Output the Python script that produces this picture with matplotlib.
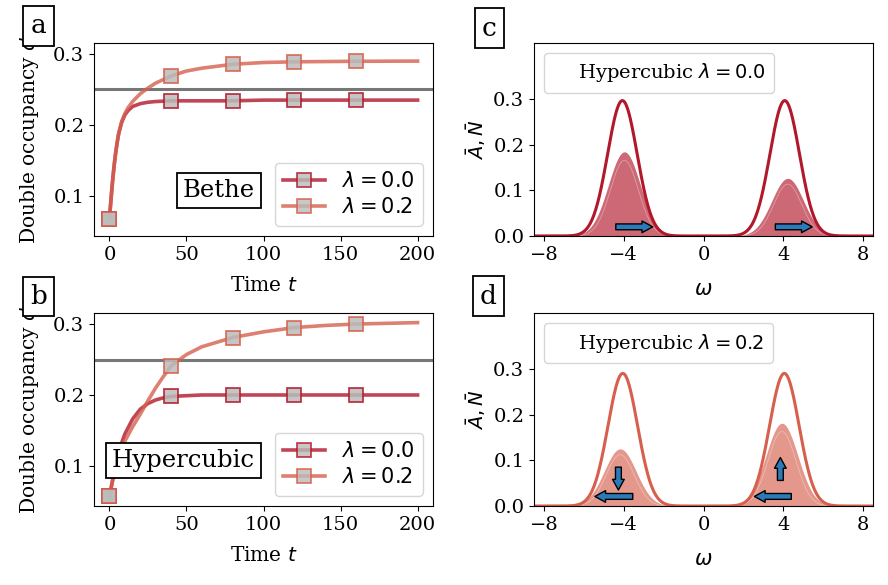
import numpy as np
import matplotlib
matplotlib.use("Agg")
import matplotlib.pyplot as plt

plt.rcParams['font.family'] = 'DejaVu Serif'
plt.rcParams['mathtext.fontset'] = 'dejavusans'
plt.rcParams['font.size'] = 14

dark = '#b2182b'
light = '#d6604d'
arrow_blue = '#2b7bba'

# double occupancy vs time
t_bethe = [0, 1, 2, 3, 4, 5, 6, 8, 10, 12, 15, 20, 25, 30, 40, 50, 60, 80, 100, 120, 160, 200]
d_bethe_00 = [0.068, 0.095, 0.12, 0.142, 0.16, 0.175, 0.188, 0.204, 0.214, 0.220, 0.226, 0.230, 0.232, 0.233, 0.234, 0.234, 0.234, 0.234, 0.235, 0.235, 0.235, 0.235]
d_bethe_02 = [0.068, 0.095, 0.12, 0.142, 0.16, 0.175, 0.188, 0.205, 0.216, 0.224, 0.233, 0.244, 0.252, 0.259, 0.269, 0.276, 0.280, 0.2855, 0.288, 0.289, 0.2897, 0.290]

t_hyper = [0, 2, 4, 6, 8, 10, 15, 20, 25, 30, 35, 40, 50, 60, 80, 100, 120, 140, 160, 180, 200]
d_hyper_00 = [0.057, 0.080, 0.100, 0.118, 0.133, 0.145, 0.166, 0.180, 0.188, 0.193, 0.196, 0.198, 0.199, 0.2, 0.2, 0.2, 0.2, 0.2, 0.2, 0.2, 0.2]
d_hyper_02 = [0.057, 0.078, 0.096, 0.111, 0.124, 0.135, 0.155, 0.173, 0.192, 0.210, 0.226, 0.241, 0.257, 0.268, 0.281, 0.289, 0.295, 0.298, 0.300, 0.301, 0.302]
t_marks = [0, 40, 80, 120, 160]
d_ref = 0.25

# spectral peaks: centre, height, width (line = A, fill = N)
omega_lim = [-8.5, 8.5]
A_sigma = 0.74
N_sigma = 0.8
A_c_centres = [-4.07, 4.07]
A_c_heights = [0.296, 0.296]
N_c_centres = [-3.97, 4.22]
N_c_heights = [0.184, 0.126]
A_d_centres = [-4.05, 4.05]
A_d_heights = [0.29, 0.29]
N_d_centres = [-4.18, 3.93]
N_d_heights = [0.125, 0.181]


def peaks(w, centres, heights, sigma):
    out = np.zeros_like(w)
    for c, h in zip(centres, heights):
        out += h * np.exp(-(w - c)**2 / (2 * sigma**2))
    return out


fig = plt.figure(figsize=(8.88, 5.85), dpi=100)
ax_a = fig.add_axes([0.1059, 0.5966, 0.3817, 0.3299])
ax_b = fig.add_axes([0.1059, 0.1350, 0.3817, 0.3299])
ax_c = fig.add_axes([0.6014, 0.5966, 0.3818, 0.3299])
ax_d = fig.add_axes([0.6014, 0.1350, 0.3818, 0.3299])


def time_panel(ax, t, d0, d2, name, box_xy):
    ax.axhline(d_ref, color='#777777', lw=2.2, zorder=1)
    for d, col, lab in [(d0, dark, r'$\lambda = 0.0$'), (d2, light, r'$\lambda = 0.2$')]:
        ax.plot(t, d, color=col, lw=2.6, alpha=0.8, zorder=2)
        idx = [t.index(m) for m in t_marks]
        ax.plot([t[i] for i in idx], [d[i] for i in idx], 's', ms=9.5,
                mfc='#bbbbbb', mec=col, mew=1.3, alpha=0.85, zorder=3)
        ax.plot([], [], '-s', color=col, lw=2.6, ms=9.5, mfc='#bbbbbb',
                mec=col, mew=1.3, alpha=0.8, label=lab)
    ax.set_xlim(-10, 210)
    ax.set_ylim(0.0435, 0.3155)
    ax.set_yticks([0.1, 0.2, 0.3])
    ax.set_xticks([0, 50, 100, 150, 200])
    ax.set_xlabel(r'Time $t$', fontsize=14.5, labelpad=9)
    ax.set_ylabel('Double occupancy $d$', fontsize=14.5, labelpad=9)
    ax.legend(loc='lower right', fontsize=15, handlelength=2.0,
              borderpad=0.4, labelspacing=0.3, handletextpad=0.8)
    ax.text(box_xy[0], box_xy[1], name, transform=ax.transAxes, fontsize=17.5,
            ha='center', va='center', zorder=5,
            bbox=dict(boxstyle='square,pad=0.25', fc='white', ec='black', lw=1.3))


time_panel(ax_a, t_bethe, d_bethe_00, d_bethe_02, 'Bethe', (0.369, 0.236))
time_panel(ax_b, t_hyper, d_hyper_00, d_hyper_02, 'Hypercubic', (0.263, 0.238))

w = np.linspace(omega_lim[0], omega_lim[1], 1200)


def spec_panel(ax, A_c, A_h, N_c, N_h, col, label, arrows):
    A = peaks(w, A_c, A_h, A_sigma)
    N = peaks(w, N_c, N_h, N_sigma)
    N_in = peaks(w, N_c, [h * 0.9 for h in N_h], N_sigma * 0.88)
    ax.fill_between(w, 0, N, color=col, alpha=0.65, lw=0)
    ax.plot(w, N_in, color='white', lw=0.6, alpha=0.35)
    ax.plot(w, A, color=col, lw=2.2)
    ax.plot([], [], ' ', label=label)
    ax.set_xlim(omega_lim)
    ax.set_ylim(0, 0.422)
    ax.set_xticks([-8, -4, 0, 4, 8])
    ax.set_yticks([0.0, 0.1, 0.2, 0.3])
    ax.set_xlabel(r'$\omega$', fontsize=15, labelpad=12)
    ax.set_ylabel(r'$\bar{A}, \bar{N}$', fontsize=14, labelpad=4)
    ax.legend(loc='upper left', fontsize=14, handlelength=0.9,
              borderpad=0.45, handletextpad=0.4)
    for start, end in arrows:
        ax.annotate('', xy=end, xytext=start,
                    arrowprops=dict(arrowstyle='simple,head_length=0.55,head_width=0.6,tail_width=0.3',
                                    fc=arrow_blue, ec='black', lw=1.0, shrinkA=0, shrinkB=0))


spec_panel(ax_c, A_c_centres, A_c_heights, N_c_centres, N_c_heights, dark,
           r'Hypercubic $\lambda = 0.0$',
           [((-4.4, 0.02), (-2.55, 0.02)), ((3.6, 0.02), (5.45, 0.02))])
spec_panel(ax_d, A_d_centres, A_d_heights, N_d_centres, N_d_heights, light,
           r'Hypercubic $\lambda = 0.2$',
           [((-3.55, 0.021), (-5.45, 0.021)), ((4.4, 0.021), (2.55, 0.021)),
            ((-4.27, 0.085), (-4.27, 0.035)), ((3.85, 0.056), (3.85, 0.106))])

for lab, x, y in [('a', 0.0434, 0.9556), ('b', 0.0434, 0.4932),
                  ('c', 0.5512, 0.952), ('d', 0.5500, 0.494)]:
    fig.text(x, y, lab, fontsize=19, ha='center', va='center',
             bbox=dict(boxstyle='square,pad=0.28', fc='white', ec='black', lw=1.3))

fig.savefig('out.png', dpi=100)
